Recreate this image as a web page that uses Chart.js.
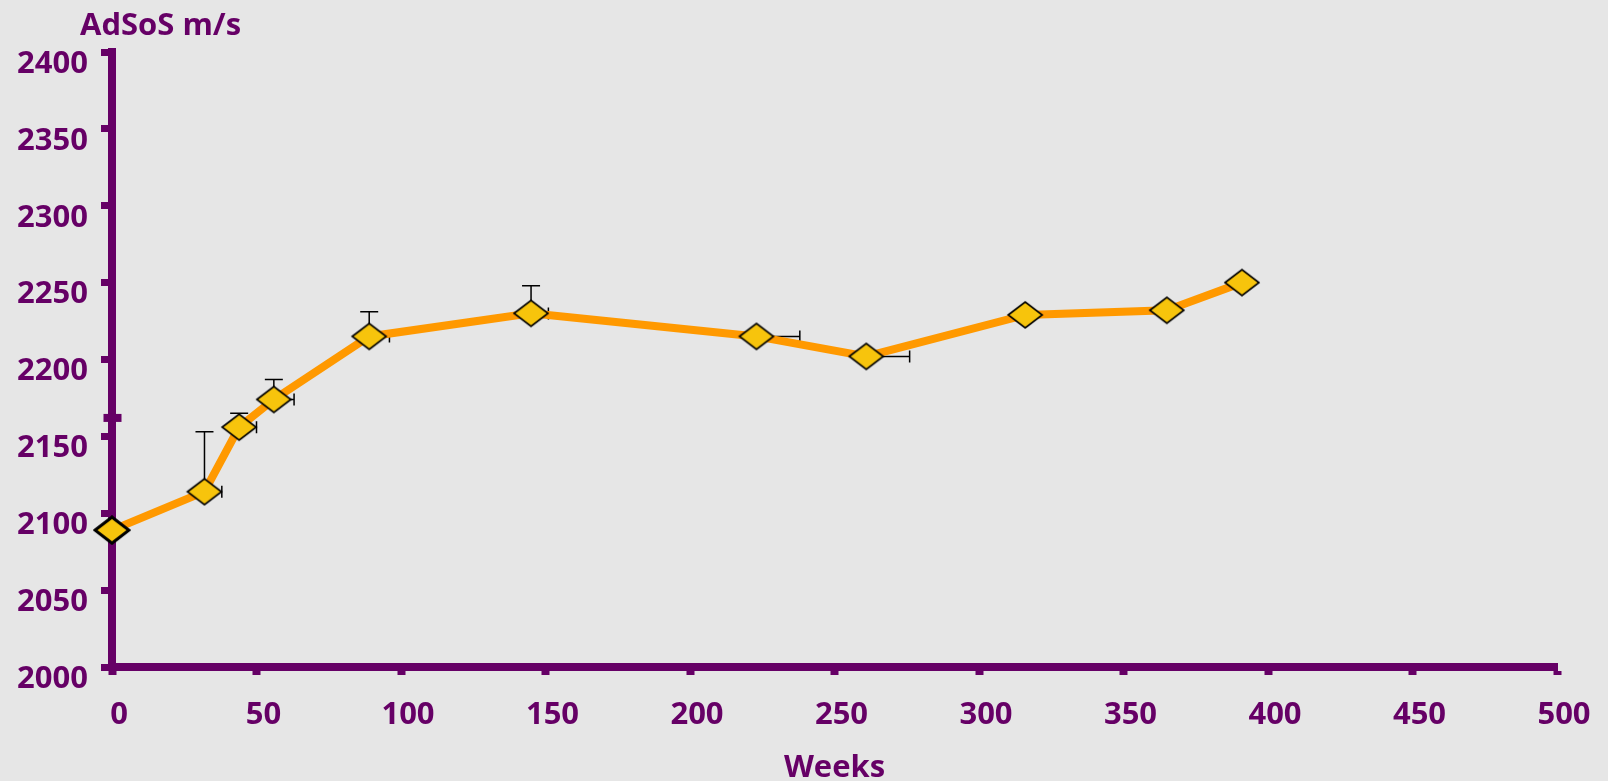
<!DOCTYPE html>
<html>
<head>
<meta charset="utf-8">
<script src="https://cdn.jsdelivr.net/npm/chart.js@4.4.1/dist/chart.umd.min.js"></script>
<style>
  html, body { margin: 0; padding: 0; background: #e6e6e6; }
  canvas { display: block; }
</style>
</head>
<body>
<canvas id="c" width="1608" height="781"></canvas>
<script>
// ---- data ----
const weeks    = [0, 32, 44, 56, 89, 145, 223, 261, 316, 365, 391];
const adsos    = [2089, 2114, 2156, 2174, 2215, 2230, 2215, 2202, 2229, 2232, 2250];
const errUp    = [0, 39, 9, 13, 16, 18, 0, 0, 0, 0, 0];     // upper y error (m/s)
const errRight = [0, 6, 6, 7, 7, 6, 15, 15, 0, 0, 0];        // right x error (weeks)
const yTitle = 'AdSoS m/s';
const xTitle = 'Weeks';
const axisBreakAt = 2162;

const PURPLE = '#660066';
const ORANGE = '#ff9900';
const YELLOW = '#f7c40c';
const FONT = '"Open Sans", Lato, sans-serif';

function diamond(border) {
  const c = document.createElement('canvas');
  c.width = 38; c.height = 30;
  const g = c.getContext('2d');
  g.beginPath();
  g.moveTo(2, 15); g.lineTo(19, 2); g.lineTo(36, 15); g.lineTo(19, 28); g.closePath();
  g.fillStyle = YELLOW; g.fill();
  g.lineWidth = border; g.strokeStyle = '#000'; g.lineJoin = 'miter'; g.stroke();
  return c;
}
const normalPt = diamond(1.6);
const boldPt = diamond(3);

const points = weeks.map((w, i) => ({ x: w, y: adsos[i] }));

const bgPlugin = {
  id: 'bg',
  beforeDraw(chart) {
    const ctx = chart.ctx;
    ctx.save();
    ctx.fillStyle = '#e6e6e6';
    ctx.fillRect(0, 0, chart.width, chart.height);
    ctx.restore();
  }
};

const errPlugin = {
  id: 'errbars',
  beforeDatasetsDraw(chart) {
    const ctx = chart.ctx, xs = chart.scales.x, ys = chart.scales.y;
    ctx.save();
    ctx.strokeStyle = '#000';
    ctx.lineWidth = 1.5;
    weeks.forEach((w, i) => {
      const px = xs.getPixelForValue(w), py = ys.getPixelForValue(adsos[i]);
      if (errUp[i] > 0) {
        const ty = ys.getPixelForValue(adsos[i] + errUp[i]);
        ctx.beginPath();
        ctx.moveTo(px, py); ctx.lineTo(px, ty);
        ctx.moveTo(px - 9, ty); ctx.lineTo(px + 9, ty);
        ctx.stroke();
      }
      if (errRight[i] > 0) {
        const tx = xs.getPixelForValue(w + errRight[i]);
        ctx.beginPath();
        ctx.moveTo(px, py); ctx.lineTo(tx, py);
        ctx.moveTo(tx, py - 6); ctx.lineTo(tx, py + 6);
        ctx.stroke();
      }
    });
    ctx.restore();
  }
};

const decoPlugin = {
  id: 'deco',
  afterDraw(chart) {
    const ctx = chart.ctx, ys = chart.scales.y, area = chart.chartArea;
    ctx.save();
    // axis break mark
    const by = ys.getPixelForValue(axisBreakAt);
    ctx.fillStyle = PURPLE;
    ctx.fillRect(area.left - 8.5, by - 4, 18, 8);
    // y axis title
    ctx.font = 'bold 31px ' + FONT;
    ctx.fillStyle = PURPLE;
    ctx.textAlign = 'left';
    ctx.textBaseline = 'alphabetic';
    ctx.fillText(yTitle, 80, 35);
    ctx.restore();
  }
};

new Chart(document.getElementById('c'), {
  type: 'line',
  data: {
    datasets: [{
      data: points,
      borderColor: ORANGE,
      borderWidth: 8,
      tension: 0,
      fill: false,
      clip: false,
      pointStyle: weeks.map((w, i) => i === 0 ? boldPt : normalPt),
      pointRadius: 15,
      pointHoverRadius: 15
    }]
  },
  options: {
    responsive: false,
    animation: false,
    events: [],
    layout: { padding: { top: 52, right: 51, left: 0, bottom: 0 } },
    plugins: { legend: { display: false }, tooltip: { enabled: false } },
    scales: {
      x: {
        type: 'linear',
        min: 0, max: 500,
        afterFit(s) { s.height = 114; },
        border: { display: true, color: PURPLE, width: 8 },
        grid: { display: true, drawOnChartArea: false, drawTicks: true, tickLength: 8, tickWidth: 8, tickColor: PURPLE, color: PURPLE },
        ticks: { stepSize: 50, color: PURPLE, font: { family: FONT, size: 31, weight: 'bold' }, padding: 22, labelOffset: 7, maxRotation: 0, autoSkip: false,
                 callback: v => String(v) },
        title: { display: true, text: xTitle, color: PURPLE, font: { family: FONT, size: 31, weight: 'bold', lineHeight: 0.8 }, padding: { top: 0, bottom: 0 } }
      },
      y: {
        min: 2000, max: 2400,
        afterFit(s) { s.width = 112; },
        border: { display: true, color: PURPLE, width: 8 },
        grid: { display: true, drawOnChartArea: false, drawTicks: true, tickLength: 11, tickWidth: 7, tickColor: PURPLE, color: PURPLE },
        ticks: { stepSize: 50, color: PURPLE, font: { family: FONT, size: 31, weight: 'bold' }, padding: 13, labelOffset: 12, autoSkip: false,
                 callback: v => String(v) }
      }
    }
  },
  plugins: [bgPlugin, errPlugin, decoPlugin]
});
</script>
</body>
</html>
